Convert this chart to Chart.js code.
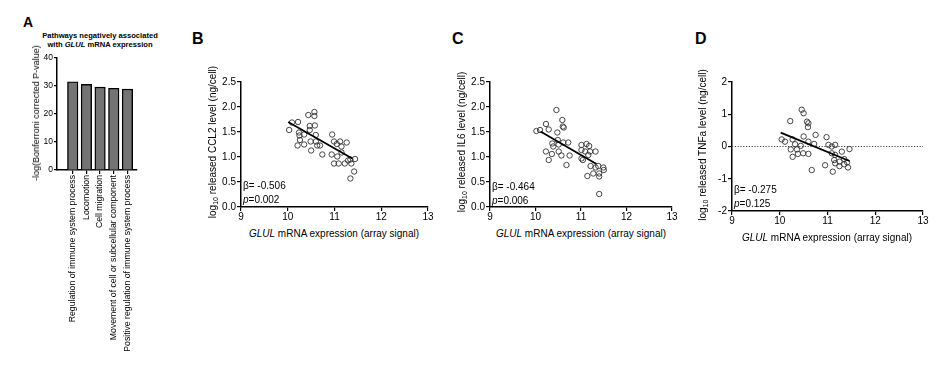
<!DOCTYPE html>
<html>
<head>
<meta charset="utf-8">
<script src="https://cdn.jsdelivr.net/npm/chart.js@4.4.1/dist/chart.umd.min.js"></script>
<style>
  body { margin: 0; background: #fff; font-family: 'Liberation Sans', Arial, sans-serif; color: #000; }
  #fig { position: relative; width: 944px; height: 367px; overflow: hidden; }
  canvas { position: absolute; }
  .letter { position: absolute; font-weight: bold; font-size: 16px; line-height: 1; }
  .xt { position: absolute; font-size: 10px; white-space: nowrap; transform: translate(-50%, -50%); }
  .yt { position: absolute; font-size: 10px; white-space: nowrap; transform: translate(-50%, -50%) rotate(-90deg); }
  .yt sub { font-size: 7px; vertical-align: -2px; }
  .ann { position: absolute; font-size: 10px; line-height: 13.5px; white-space: nowrap; }
  .head { position: absolute; font-size: 7.6px; font-weight: bold; line-height: 9px; text-align: center; white-space: nowrap; transform: translateX(-50%); }
</style>
</head>
<body>
<div id="fig">
  <canvas id="chartA" width="130" height="310" style="left:27px;top:50px"></canvas>
  <canvas id="chartB" width="245" height="155" style="left:200px;top:70px"></canvas>
  <canvas id="chartC" width="245" height="155" style="left:450px;top:70px"></canvas>
  <canvas id="chartD" width="250" height="158" style="left:690px;top:70px"></canvas>

  <div class="letter" style="left:23px;top:15px;font-size:14px">A</div>
  <div class="letter" style="left:192px;top:31px">B</div>
  <div class="letter" style="left:452px;top:31px">C</div>
  <div class="letter" style="left:695px;top:31px">D</div>

  <div class="head" style="left:100px;top:31px">Pathways negatively associated<br>with <i>GLUL</i> mRNA expression</div>
  <div class="yt" style="left:36px;top:113px;font-size:9px">-log(Bonferroni corrected P-value)</div>

  <div class="yt" style="left:213px;top:142px">log<sub>10</sub> released CCL2 level (ng/cell)</div>
  <div class="xt" style="left:334px;top:233px"><i>GLUL</i> mRNA expression (array signal)</div>
  <div class="ann" style="left:243px;top:179px">&beta;= -0.506<br><i>p</i>=0.002</div>

  <div class="yt" style="left:462px;top:142px">log<sub>10</sub> released IL6 level (ng/cell)</div>
  <div class="xt" style="left:581px;top:233px"><i>GLUL</i> mRNA expression (array signal)</div>
  <div class="ann" style="left:492px;top:180px">&beta;= -0.464<br><i>p</i>=0.006</div>

  <div class="yt" style="left:703px;top:145px">log<sub>10</sub> released TNFa level (ng/cell)</div>
  <div class="xt" style="left:827px;top:237px"><i>GLUL</i> mRNA expression (array signal)</div>
  <div class="ann" style="left:734px;top:183px">&beta;= -0.275<br><i>p</i>=0.125</div>
</div>

<script>
// Panel A - pathway enrichment
const pathwayLabels = [
    'Regulation of immune system process',
    'Locomotion',
    'Cell migration',
    'Movement of cell or subcellular component',
    'Positive regulation of immune system process'
];
const pathwayScores = [31.5, 30.6, 29.6, 29.2, 28.9];

// Panel B - CCL2
const ccl2Glul = [10.03, 10.09, 10.22, 10.24, 10.25, 10.26, 10.21, 10.35, 10.35, 10.44, 10.47, 10.57, 10.57, 10.58, 10.60, 10.49, 10.50, 10.60, 10.63, 10.69, 10.74, 10.95, 10.94, 10.99, 11.05, 10.99, 11.09, 11.12, 11.15, 11.26, 11.15, 11.06, 11.22, 11.29, 11.36, 11.34, 11.44, 11.34, 11.42, 10.47];
const ccl2Level = [1.54, 1.69, 1.70, 1.49, 1.43, 1.34, 1.23, 1.45, 1.25, 1.84, 1.62, 1.90, 1.82, 1.63, 1.44, 1.31, 1.13, 1.31, 1.23, 1.23, 1.05, 1.45, 1.05, 1.31, 1.26, 0.87, 0.87, 1.31, 1.21, 1.29, 1.09, 1.01, 0.87, 0.93, 0.87, 0.95, 0.96, 0.57, 0.71, 1.54];
const ccl2FitX = [10.01, 11.38];
const ccl2FitY = [1.70, 0.97];

// Panel C - IL6
const il6Glul = [10.02, 10.10, 10.23, 10.29, 10.46, 10.59, 10.60, 10.62, 10.48, 10.37, 10.39, 10.49, 10.51, 10.61, 10.72, 10.23, 10.36, 10.29, 10.51, 10.57, 10.75, 10.68, 11.01, 11.12, 11.18, 11.01, 11.09, 11.20, 11.32, 11.01, 11.04, 11.16, 11.21, 11.32, 11.38, 11.49, 11.50, 11.27, 11.40, 11.14, 11.40, 11.40];
const il6Level = [1.52, 1.54, 1.66, 1.55, 1.94, 1.74, 1.61, 1.59, 1.49, 1.27, 1.21, 1.34, 1.25, 1.29, 1.29, 1.11, 1.06, 0.94, 1.11, 1.03, 1.03, 0.84, 1.24, 1.26, 1.22, 1.14, 1.11, 1.11, 1.11, 0.97, 0.94, 1.04, 0.82, 0.79, 0.82, 0.79, 0.74, 0.67, 0.67, 0.62, 0.61, 0.26];
const il6FitX = [10.11, 11.34];
const il6FitY = [1.51, 0.86];

// Panel D - TNFa
const tnfGlul = [10.04, 10.11, 10.22, 10.27, 10.32, 10.23, 10.36, 10.27, 10.38, 10.44, 10.46, 10.50, 10.50, 10.57, 10.60, 10.59, 10.60, 10.49, 10.60, 10.75, 10.72, 10.67, 10.98, 11.02, 11.09, 11.16, 10.95, 11.11, 11.09, 11.16, 11.14, 11.25, 11.16, 11.30, 11.25, 11.35, 11.41, 11.46, 11.43, 11.35];
const tnfLevel = [0.22, 0.15, 0.79, 0.22, 0.07, -0.09, -0.09, -0.32, -0.23, 0.02, 1.14, 1.03, 0.31, 0.77, 0.72, 0.60, 0.15, -0.21, -0.23, 0.36, 0.08, -0.73, 0.29, 0.05, 0.00, 0.05, -0.58, -0.78, -0.21, -0.26, -0.42, -0.47, -0.52, -0.16, -0.61, -0.55, -0.49, -0.08, -0.65, -0.39];
const tnfFitX = [10.02, 11.46];
const tnfFitY = [0.43, -0.45];

const glulTicks = [9, 13];

Chart.defaults.font.family = "'Liberation Sans', Arial, sans-serif";
Chart.defaults.color = '#000';
Chart.defaults.animation = false;
Chart.defaults.responsive = false;
Chart.defaults.devicePixelRatio = 1;
Chart.defaults.plugins.legend.display = false;
Chart.defaults.plugins.tooltip.enabled = false;

const axisGrid = { drawOnChartArea: false, color: '#000', tickLength: 4, lineWidth: 1.2 };
const axisBorder = { color: '#000', width: 1.5 };

function zip(xs, ys) {
    return xs.map((x, i) => ({ x: x, y: ys[i] }));
}

// Panel A bars on a linear x so the bar spacing matches the original
new Chart(document.getElementById('chartA'), {
    type: 'bar',
    data: {
        datasets: [{
            data: pathwayScores.map((v, i) => ({ x: i, y: v })),
            backgroundColor: '#747474',
            borderColor: '#000',
            borderWidth: 1.4,
            barThickness: 10.5
        }]
    },
    options: {
        layout: { padding: { left: 0, top: 8, right: 20, bottom: 0 } },
        scales: {
            x: {
                type: 'linear',
                min: -1.15,
                max: 4.7,
                offset: false,
                afterBuildTicks: scale => { scale.ticks = pathwayLabels.map((_, i) => ({ value: i })); },
                afterFit: scale => { scale.height = 190; },
                ticks: {
                    callback: v => pathwayLabels[v],
                    autoSkip: false,
                    minRotation: 90,
                    maxRotation: 90,
                    padding: 1,
                    font: { size: 8.7 }
                },
                grid: Object.assign({}, axisGrid, { offset: false }),
                border: axisBorder
            },
            y: {
                min: 0,
                max: 40,
                afterFit: scale => { scale.width = 30; },
                ticks: { stepSize: 10, padding: 1, font: { size: 8.5 } },
                grid: Object.assign({}, axisGrid, { tickLength: 3 }),
                border: axisBorder
            }
        }
    }
});

function scatterPanel(id, xs, ys, fitX, fitY, yMin, yMax, yStep, yDigits, box, zeroLine) {
    const datasets = [
        {
            data: zip(fitX, fitY),
            showLine: true,
            borderColor: '#000',
            borderWidth: 1.8,
            pointRadius: 0
        },
        {
            data: zip(xs, ys),
            pointRadius: 2.7,
            pointBorderWidth: 0.9,
            pointBorderColor: '#333',
            pointBackgroundColor: 'rgba(255,255,255,0)'
        }
    ];
    if (zeroLine) {
        datasets.push({
            data: zip(glulTicks, [0, 0]),
            showLine: true,
            borderColor: '#444',
            borderWidth: 1,
            borderDash: [1.2, 1.6],
            pointRadius: 0
        });
    }
    new Chart(document.getElementById(id), {
        type: 'scatter',
        data: { datasets: datasets },
        options: {
            layout: { padding: { left: 0, top: box.top, right: box.right, bottom: 0 } },
            scales: {
                x: {
                    type: 'linear',
                    min: glulTicks[0],
                    max: glulTicks[1],
                    afterFit: scale => { scale.height = box.xh; },
                    ticks: { stepSize: 1, padding: 0, font: { size: 10 } },
                    grid: axisGrid,
                    border: axisBorder
                },
                y: {
                    min: yMin,
                    max: yMax,
                    afterFit: scale => { scale.width = box.yw; },
                    ticks: {
                        stepSize: yStep,
                        padding: 1,
                        font: { size: 10 },
                        callback: v => v.toFixed(yDigits)
                    },
                    grid: axisGrid,
                    border: axisBorder
                }
            }
        }
    });
}

scatterPanel('chartB', ccl2Glul, ccl2Level, ccl2FitX, ccl2FitY, 0, 2.5, 0.5, 1, { top: 12, right: 17, xh: 18, yw: 41 }, false);
scatterPanel('chartC', il6Glul, il6Level, il6FitX, il6FitY, 0, 2.5, 0.5, 1, { top: 12, right: 23, xh: 18, yw: 40 }, false);
scatterPanel('chartD', tnfGlul, tnfLevel, tnfFitX, tnfFitY, -2, 2, 1, 0, { top: 12, right: 17, xh: 17, yw: 42 }, true);
</script>
</body>
</html>
